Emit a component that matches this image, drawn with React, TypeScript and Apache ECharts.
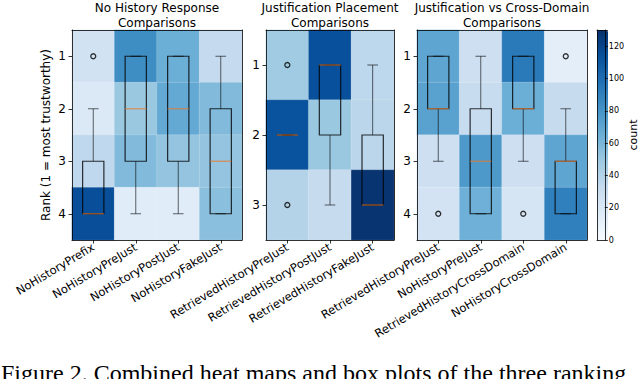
import React, { useEffect, useRef } from "react";
import * as echarts from "echarts";

// ---------- data ----------
const panelTitles = [
  "No History Response\nComparisons",
  "Justification Placement\nComparisons",
  "Justification vs Cross-Domain\nComparisons",
];

const panel1Categories = ["NoHistoryPrefix", "NoHistoryPreJust", "NoHistoryPostJust", "NoHistoryFakeJust"];
const panel1Ranks = ["1", "2", "3", "4"];
// counts per column, by rank
const panel1Counts = [
  [25, 18, 35, 115],
  [83, 50, 58, 15],
  [65, 68, 52, 15],
  [33, 58, 52, 55],
];
// [whiskerLow, q1, median, q3, whiskerHigh]
const panel1Boxes = [
  [2, 3, 4, 4, 4],
  [1, 1, 2, 3, 4],
  [1, 1, 2, 3, 4],
  [1, 2, 3, 4, 4],
];
const panel1Outliers = [[0, 1]];

const panel2Categories = ["RetrievedHistoryPreJust", "RetrievedHistoryPostJust", "RetrievedHistoryFakeJust"];
const panel2Ranks = ["1", "2", "3"];
const panel2Counts = [
  [48, 113, 40],
  [114, 50, 32],
  [36, 37, 128],
];
const panel2Boxes = [
  [2, 2, 2, 2, 2],
  [1, 1, 1, 2, 3],
  [1, 2, 3, 3, 3],
];
const panel2Outliers = [
  [0, 1],
  [0, 3],
];

const panel3Categories = [
  "RetrievedHistoryPreJust",
  "NoHistoryPreJust",
  "RetrievedHistoryCrossDomain",
  "NoHistoryCrossDomain",
];
const panel3Ranks = ["1", "2", "3", "4"];
const panel3Counts = [
  [70, 72, 28, 24],
  [28, 31, 77, 64],
  [93, 65, 28, 22],
  [13, 32, 70, 90],
];
const panel3Boxes = [
  [1, 1, 2, 2, 3],
  [1, 2, 3, 4, 4],
  [1, 1, 2, 2, 3],
  [2, 3, 3, 4, 4],
];
const panel3Outliers = [
  [0, 4],
  [2, 4],
  [3, 1],
];

const colorbarMin = 0;
const colorbarMax = 130;
const colorbarInterval = 20;

const captionText = "Figure 2. Combined heat maps and box plots of the three ranking";

const BLUES = ["#f7fbff", "#deebf7", "#c6dbef", "#9ecae1", "#6baed6", "#4292c6", "#2171b5", "#08519c", "#08306b"];
const FONT = "DejaVu Sans";

const panels = [
  { cats: panel1Categories, ranks: panel1Ranks, counts: panel1Counts, boxes: panel1Boxes, outliers: panel1Outliers, left: 72, width: 170 },
  { cats: panel2Categories, ranks: panel2Ranks, counts: panel2Counts, boxes: panel2Boxes, outliers: panel2Outliers, left: 266, width: 128 },
  { cats: panel3Categories, ranks: panel3Ranks, counts: panel3Counts, boxes: panel3Boxes, outliers: panel3Outliers, left: 417, width: 170 },
];

const GRID_TOP = 30;
const GRID_H = 210;

function buildOption() {
  const grid: any[] = [];
  const xAxis: any[] = [];
  const yAxis: any[] = [];
  const series: any[] = [];
  const heatIdx: number[] = [];
  const title: any[] = [];

  panels.forEach((p, i) => {
    grid.push({ left: p.left, top: GRID_TOP, width: p.width, height: GRID_H, containLabel: false });
    title.push({
      text: panelTitles[i],
      left: p.left + p.width / 2,
      top: 0,
      padding: 0,
      textAlign: "center",
      textStyle: { fontFamily: FONT, fontSize: 12, fontWeight: "normal", color: "#000", lineHeight: 15 },
    });
    xAxis.push({
      type: "category",
      gridIndex: i,
      position: "bottom",
      data: p.cats,
      z: 10,
      axisLine: { show: true, onZero: false, lineStyle: { color: "#000", width: 0.8 } },
      axisTick: { show: true, alignWithLabel: true, length: 3.5, lineStyle: { color: "#000", width: 0.8 } },
      axisLabel: { interval: 0, rotate: 31, fontFamily: FONT, fontSize: 11.5, color: "#000", margin: 6 },
      splitLine: { show: false },
    });
    xAxis.push({
      type: "category",
      gridIndex: i,
      position: "top",
      data: p.cats,
      z: 10,
      axisLine: { show: true, onZero: false, lineStyle: { color: "#000", width: 0.8 } },
      axisTick: { show: false },
      axisLabel: { show: false },
      splitLine: { show: false },
    });
    yAxis.push({
      type: "category",
      gridIndex: i,
      position: "left",
      inverse: true,
      data: p.ranks,
      z: 10,
      name: i === 0 ? "Rank (1 = most trustworthy)" : "",
      nameLocation: "middle",
      nameRotate: 90,
      nameGap: 20,
      nameTextStyle: { fontFamily: FONT, fontSize: 12, color: "#000" },
      axisLine: { show: true, onZero: false, lineStyle: { color: "#000", width: 0.8 } },
      axisTick: { show: true, alignWithLabel: true, length: 3.5, lineStyle: { color: "#000", width: 0.8 } },
      axisLabel: { fontFamily: FONT, fontSize: 12, color: "#000", margin: 6 },
      splitLine: { show: false },
    });
    yAxis.push({
      type: "value",
      gridIndex: i,
      position: "right",
      inverse: true,
      min: 0.5,
      max: p.ranks.length + 0.5,
      z: 10,
      axisLine: { show: true, onZero: false, lineStyle: { color: "#000", width: 0.8 } },
      axisTick: { show: false },
      axisLabel: { show: false },
      splitLine: { show: false },
    });

    const heatData: number[][] = [];
    p.counts.forEach((col, ci) => col.forEach((v, ri) => heatData.push([ci, ri, v])));
    heatIdx.push(series.length);
    series.push({
      type: "heatmap",
      xAxisIndex: 2 * i,
      yAxisIndex: 2 * i,
      data: heatData,
      itemStyle: { borderColor: "rgba(255,255,255,0.35)", borderWidth: 0.5 },
      emphasis: { disabled: true },
    });

    series.push({
      type: "custom",
      xAxisIndex: 2 * i,
      yAxisIndex: 2 * i + 1,
      z: 5,
      data: p.boxes.map((b, ci) => [ci, ...b]),
      renderItem: (params: any, api: any) => {
        const x = api.value(0);
        const lo = api.value(1);
        const q1 = api.value(2);
        const med = api.value(3);
        const q3 = api.value(4);
        const hi = api.value(5);
        const band = api.size([1, 0])[0];
        const bw = band * 0.5;
        const cw = bw * 0.5;
        const c = (v: number) => api.coord([x, v]);
        const pLo = c(lo), pQ1 = c(q1), pMed = c(med), pQ3 = c(q3), pHi = c(hi);
        const cx = pQ1[0];
        const wStyle = { stroke: "rgba(0,0,0,0.6)", lineWidth: 1 };
        const bStyle = { stroke: "rgba(0,0,0,0.8)", lineWidth: 1.2, fill: "none" };
        const top = Math.min(pQ1[1], pQ3[1]);
        const h = Math.abs(pQ3[1] - pQ1[1]);
        return {
          type: "group",
          children: [
            { type: "line", shape: { x1: cx, y1: pLo[1], x2: cx, y2: pQ1[1] }, style: wStyle },
            { type: "line", shape: { x1: cx, y1: pQ3[1], x2: cx, y2: pHi[1] }, style: wStyle },
            { type: "line", shape: { x1: cx - cw / 2, y1: pLo[1], x2: cx + cw / 2, y2: pLo[1] }, style: wStyle },
            { type: "line", shape: { x1: cx - cw / 2, y1: pHi[1], x2: cx + cw / 2, y2: pHi[1] }, style: wStyle },
            { type: "rect", shape: { x: cx - bw / 2, y: top, width: bw, height: h }, style: bStyle },
            { type: "line", shape: { x1: cx - bw / 2, y1: pMed[1], x2: cx + bw / 2, y2: pMed[1] }, style: { stroke: "rgba(235,120,40,0.75)", lineWidth: 1.2 } },
          ],
        };
      },
    });

    series.push({
      type: "scatter",
      xAxisIndex: 2 * i,
      yAxisIndex: 2 * i + 1,
      z: 6,
      data: p.outliers,
      symbol: "circle",
      symbolSize: 5,
      itemStyle: { color: "rgba(255,255,255,0)", borderColor: "#000", borderWidth: 1.3 },
      emphasis: { disabled: true },
    });
  });

  const cbGrid = grid.length;
  grid.push({ left: 597, top: GRID_TOP, width: 11, height: GRID_H });
  xAxis.push({
    type: "category", gridIndex: cbGrid, position: "bottom", data: ["c"], z: 10,
    axisLine: { show: true, onZero: false, lineStyle: { color: "#000", width: 0.8 } },
    axisTick: { show: false }, axisLabel: { show: false }, splitLine: { show: false },
  });
  xAxis.push({
    type: "category", gridIndex: cbGrid, position: "top", data: ["c"], z: 10,
    axisLine: { show: true, onZero: false, lineStyle: { color: "#000", width: 0.8 } },
    axisTick: { show: false }, axisLabel: { show: false }, splitLine: { show: false },
  });
  yAxis.push({
    type: "value", gridIndex: cbGrid, position: "right", min: colorbarMin, max: colorbarMax, interval: colorbarInterval, z: 10,
    name: "count", nameLocation: "middle", nameRotate: 90, nameGap: 19,
    nameTextStyle: { fontFamily: FONT, fontSize: 11, color: "#000" },
    axisLine: { show: true, onZero: false, lineStyle: { color: "#000", width: 0.8 } },
    axisTick: { show: true, length: 3, lineStyle: { color: "#000", width: 0.8 } },
    axisLabel: {
      fontFamily: FONT, fontSize: 8, color: "#000", margin: 4,
      formatter: (v: number) => (v % colorbarInterval === 0 ? String(v) : ""),
    },
    splitLine: { show: false },
  });
  yAxis.push({
    type: "value", gridIndex: cbGrid, position: "left", min: colorbarMin, max: colorbarMax, z: 10,
    axisLine: { show: true, onZero: false, lineStyle: { color: "#000", width: 0.8 } },
    axisTick: { show: false }, axisLabel: { show: false }, splitLine: { show: false },
  });
  series.push({
    type: "scatter", xAxisIndex: 6, yAxisIndex: 6, data: [], silent: true,
  });

  return {
    animation: false,
    backgroundColor: "#fff",
    title,
    grid,
    xAxis,
    yAxis,
    series,
    visualMap: {
      type: "continuous",
      min: colorbarMin,
      max: colorbarMax,
      seriesIndex: heatIdx,
      calculable: false,
      orient: "vertical",
      left: 597,
      top: GRID_TOP,
      padding: 0,
      itemWidth: 11,
      itemHeight: GRID_H,
      inRange: { color: BLUES },
      textStyle: { fontSize: 0 },
      hoverLink: false,
    },
    graphic: [
      {
        type: "text",
        left: 1,
        top: 361,
        style: {
          text: captionText,
          font: '24px "Liberation Serif"',
          fill: "#000",
        },
      },
    ],
  };
}

export default function App() {
  const ref = useRef<HTMLDivElement>(null);
  useEffect(() => {
    if (!ref.current) return;
    const chart = echarts.init(ref.current, undefined, { renderer: "svg" });
    chart.setOption(buildOption() as any);
    return () => chart.dispose();
  }, []);
  return <div ref={ref} style={{ position: "absolute", left: 0, top: 0, width: 640, height: 379 }} />;
}
